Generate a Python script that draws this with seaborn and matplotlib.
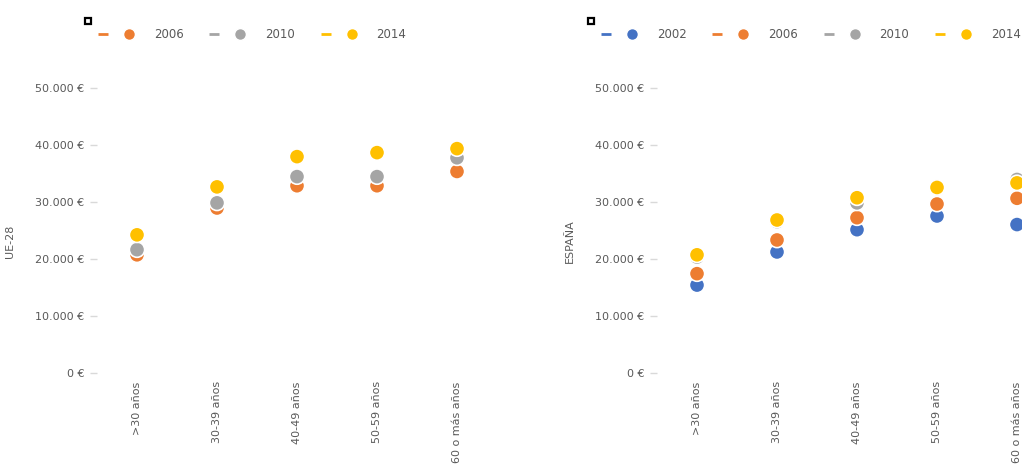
import pandas as pd
import matplotlib.pyplot as plt
import seaborn as sns
from matplotlib.lines import Line2D
from matplotlib.legend_handler import HandlerTuple
from matplotlib.patches import Rectangle
from matplotlib.ticker import FuncFormatter

# Data (euros)
age_groups = ['>30 años', '30-39 años', '40-49 años', '50-59 años', '60 o más años']

ue_years = ['2006', '2010', '2014']
ue_2006 = [20700, 28900, 32800, 32800, 35300]
ue_2010 = [21600, 29800, 34400, 34400, 37700]
ue_2014 = [24200, 32600, 37900, 38600, 39300]

es_years = ['2002', '2006', '2010', '2014']
es_2002 = [15400, 21200, 25100, 27500, 26000]
es_2006 = [17400, 23300, 27200, 29600, 30600]
es_2010 = [20300, 26500, 29800, 32300, 33900]
es_2014 = [20700, 26800, 30700, 32500, 33300]

year_colors = {'2002': '#4472C4', '2006': '#ED7D31', '2010': '#A5A5A5', '2014': '#FFC000'}

sns.set_theme(style='white')
plt.rcParams['font.family'] = ['DejaVu Sans']


def to_long(years, series):
    rows = []
    for year, values in zip(years, series):
        for group, value in zip(age_groups, values):
            rows.append({'grupo': group, 'año': year, 'salario': value})
    return pd.DataFrame(rows)


def euro_fmt(v, _):
    return f'{int(v):,}'.replace(',', '.') + ' €'


def draw_panel(fig, rect, df, years, ylabel, legend_x):
    ax = fig.add_axes(rect)
    sns.stripplot(data=df, x='grupo', y='salario', hue='año', hue_order=years,
                  palette=year_colors, jitter=False, dodge=False, size=11,
                  linewidth=1.2, edgecolor='white', order=age_groups, ax=ax,
                  legend=False, zorder=3)
    ax.set_xlim(-0.5, 4.5)
    ax.set_ylim(0, 55000)
    ax.set_yticks(range(0, 60000, 10000))
    ax.yaxis.set_major_formatter(FuncFormatter(euro_fmt))
    ax.set_xlabel('')
    ax.set_ylabel(ylabel, fontsize=8, color='#595959')
    ax.yaxis.set_label_coords(-0.205, 0.42)
    ax.tick_params(axis='y', length=5, width=1, color='#D9D9D9', pad=4,
                   labelsize=8, labelcolor='#595959', left=True)
    ax.tick_params(axis='x', length=0, pad=6, labelsize=8, labelcolor='#595959',
                   labelrotation=90)
    for lbl in ax.get_xticklabels():
        lbl.set_va('top')
    sns.despine(ax=ax, left=True, bottom=True)

    handles = []
    for y in years:
        dash = Line2D([], [], color=year_colors[y], marker='_', linestyle='none',
                      markersize=7, markeredgewidth=2)
        dot = Line2D([], [], color=year_colors[y], marker='o', linestyle='none',
                     markersize=8.5, markeredgecolor='white')
        handles.append((dash, dot))
    fig.legend(handles, years, handler_map={tuple: HandlerTuple(ndivide=None, pad=0.8)},
               loc='center left', bbox_to_anchor=(legend_x, 1 - 35 / 470),
               ncol=len(years), frameon=False, fontsize=8.5, labelcolor='#595959',
               handlelength=3.6, handletextpad=1.4, columnspacing=1.9,
               borderaxespad=0, borderpad=0)
    fig.add_artist(Rectangle(((legend_x * 1022 - 10) / 1022, 1 - 24 / 470), 6 / 1022, 6 / 470,
                             transform=fig.transFigure, fill=False, edgecolor='black',
                             linewidth=1.6))
    return ax


fig = plt.figure(figsize=(10.22, 4.70), dpi=100)
bottom = (470 - 373) / 470
height = (373 - 59) / 470
draw_panel(fig, [97 / 1022, bottom, 400 / 1022, height],
           to_long(ue_years, [ue_2006, ue_2010, ue_2014]), ue_years, 'UE-28', 95 / 1022)
draw_panel(fig, [657 / 1022, bottom, 400 / 1022, height],
           to_long(es_years, [es_2002, es_2006, es_2010, es_2014]), es_years, 'ESPAÑA', 598 / 1022)

fig.savefig('out.png', dpi=100)
